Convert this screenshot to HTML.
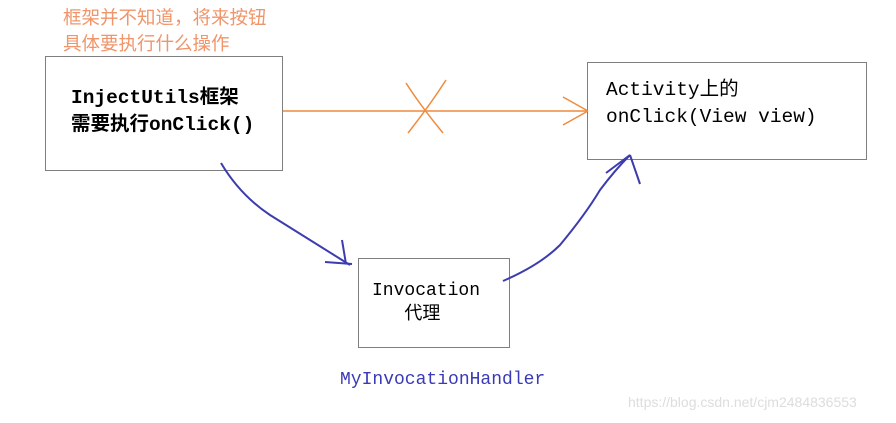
<!DOCTYPE html>
<html><head><meta charset="utf-8"><style>
body{margin:0;width:896px;height:423px;background:#fff;position:relative;overflow:hidden;font-family:"Liberation Mono","Noto Sans CJK SC",monospace}
.t{position:absolute;white-space:nowrap}
.box{position:absolute;border:1px solid #7f7f7f;box-sizing:border-box}
</style></head><body>
<div class="t" style="left:63px;top:5px;color:#f0956a;font-family:'Liberation Sans','Noto Sans CJK SC',sans-serif;font-size:18.5px;line-height:26px">框架并不知道，将来按钮<br>具体要执行什么操作</div>
<div class="box" style="left:45px;top:56px;width:238px;height:115px"></div>
<div class="box" style="left:587px;top:62px;width:280px;height:98px"></div>
<div class="box" style="left:358px;top:258px;width:152px;height:90px"></div>
<div class="t" style="left:71px;top:85px;font-size:19.5px;font-weight:bold;line-height:27px;color:#000">InjectUtils框架<br>需要执行onClick()</div>
<div class="t" style="left:606px;top:77px;font-size:19.5px;line-height:27px;color:#000">Activity上的<br>onClick(View view)</div>
<div class="t" style="left:372px;top:279px;font-size:18px;line-height:24px;color:#000">Invocation<br>&nbsp;&nbsp;&nbsp;代理</div>
<div class="t" style="left:340px;top:370px;font-size:18px;color:#3a3ab8">MyInvocationHandler</div>
<div class="t" style="left:628px;top:394px;font-size:14px;color:#ddd;font-family:'Liberation Sans',sans-serif">https://blog.csdn.net/cjm2484836553</div>
<svg width="896" height="423" style="position:absolute;left:0;top:0">
<g stroke="#f08a3c" stroke-width="1.5" fill="none">
<line x1="283" y1="111" x2="588" y2="111"/>
<line x1="563" y1="97" x2="588" y2="111"/><line x1="563" y1="125" x2="588" y2="111"/>
<path d="M406 83 Q420 105 443 133"/><path d="M446 80 Q430 105 408 133"/>
</g>
<g stroke="#3c3caf" stroke-width="2" fill="none">
<path d="M221 163 Q240 195 270 215 Q310 240 350 265"/>
<line x1="342" y1="240" x2="346" y2="264"/><line x1="325" y1="262" x2="352" y2="264"/>
<path d="M503 281 Q540 265 560 245 Q585 215 600 190 Q615 170 630 155"/>
<line x1="606" y1="173" x2="630" y2="155"/><line x1="630" y1="155" x2="640" y2="184"/>
</g>
</svg>
</body></html>
